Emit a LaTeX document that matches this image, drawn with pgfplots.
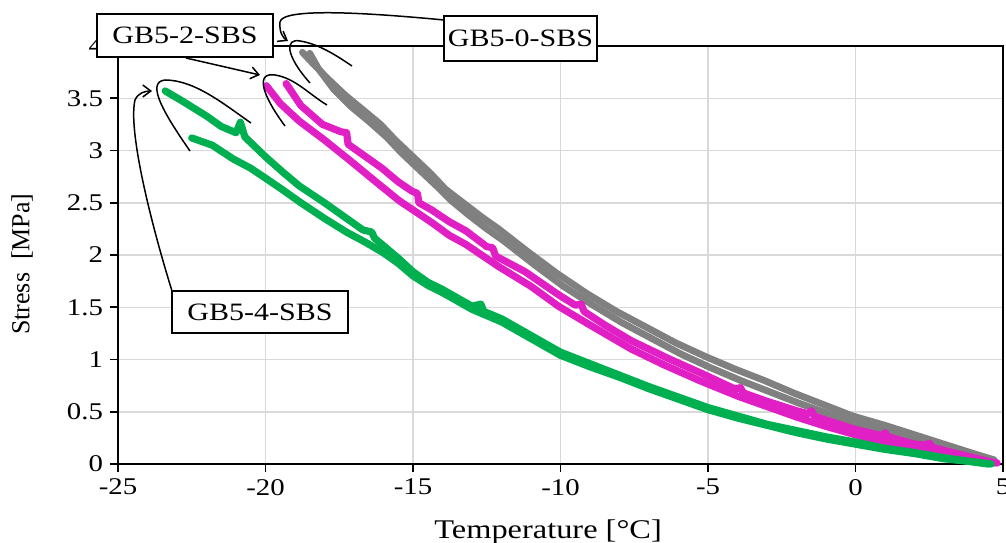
\documentclass[border=0pt]{standalone}
\usepackage{pgfplots}
\pgfplotsset{compat=1.18}
\usetikzlibrary{arrows.meta}
\usepackage{fontspec}
\setmainfont{Liberation Serif}[FakeStretch=1.2]
\newfontfamily\ylabfont{Liberation Serif}
\definecolor{cgreen}{RGB}{0,176,80}
\definecolor{cmag}{RGB}{224,32,196}
\definecolor{cgray}{RGB}{128,128,128}
\definecolor{cgrid}{RGB}{217,217,217}
\begin{document}
\begin{tikzpicture}
\begin{axis}[
  at={(0,0)}, anchor=south west,
  scale only axis, width=442.5pt, height=209pt,
  xmin=-25, xmax=5, ymin=0, ymax=4,
  xtick={-25,-20,-15,-10,-5,0,5}, xticklabels={-25,-20,-15,-10,-5,0,5},
  ytick={0,0.5,1,1.5,2,2.5,3,3.5,4}, yticklabels={0,0.5,1,1.5,2,2.5,3,3.5,4},
  xtick pos=left, ytick pos=left,
  tick align=outside, major tick length=4pt,
  grid=major, major grid style={cgrid, line width=0.75pt},
  axis line style={black, line width=1pt},
  tick style={black, line width=0.8pt},
  ticklabel style={font=\fontsize{12}{14}\selectfont},
  /pgf/number format/assume math mode=true,
  xlabel={Temperature [\textdegree C]},
  xlabel style={font=\fontsize{13.5}{15}\selectfont, at={(axis description cs:0.486,-0.162)}, anchor=center},
  ylabel={\ylabfont Stress\ \ [MPa]},
  ylabel style={font=\fontsize{13}{15}\selectfont, at={(axis description cs:-0.1085,0.478)}, anchor=center},
  clip=false,
]
% GB5-0-SBS (gray)
\addplot[cgray, line width=3.4pt, line join=round, line cap=round] coordinates {
(-18.75,3.94) (-18.45,3.85) (-17.9,3.69) (-17.3,3.53) (-16.7,3.39) (-16.1,3.25) (-15.6,3.10) (-15.0,2.94) (-14.4,2.78) (-13.9,2.63) (-13.3,2.50) (-12.7,2.37) (-12.1,2.25) (-11.1,2.03) (-10.1,1.82) (-9.1,1.63) (-8.1,1.46) (-7.1,1.31) (-6.1,1.16) (-5.1,1.03) (-4.1,0.91) (-3.1,0.80) (-2.1,0.68) (-1.1,0.57) (-0.1,0.46) (1,0.37) (2,0.28) (3,0.19) (4,0.10) (4.7,0.04)};
\addplot[cgray, line width=3.4pt, line join=round, line cap=round] coordinates {
(-18.5,3.93) (-18.2,3.78) (-17.7,3.59) (-17.1,3.42) (-16.5,3.28) (-15.9,3.13) (-15.4,2.98) (-14.8,2.82) (-14.2,2.66) (-13.7,2.52) (-13.1,2.38) (-12.5,2.25) (-11.9,2.13) (-10.9,1.91) (-9.9,1.70) (-8.9,1.52) (-7.9,1.35) (-6.9,1.20) (-5.9,1.05) (-4.9,0.92) (-3.9,0.80) (-2.9,0.69) (-1.9,0.58) (-0.9,0.48) (0.1,0.38) (1.1,0.30) (2.1,0.21) (3.1,0.13) (4.1,0.06) (4.8,0.01)};
% GB5-2-SBS (magenta)
\addplot[cmag, line width=3.6pt, line join=round, line cap=round] coordinates {
(-19.3,3.64) (-18.8,3.43) (-18.07,3.25) (-17.45,3.18) (-17.25,3.17) (-17.2,3.06) (-16.6,2.94) (-16.05,2.83) (-15.5,2.70) (-15.03,2.61) (-14.85,2.59) (-14.8,2.50) (-14.36,2.43) (-13.78,2.32) (-13.2,2.23) (-12.5,2.08) (-12.3,2.07) (-12.2,1.99) (-11.2,1.84) (-10.07,1.62) (-9.5,1.52) (-9.3,1.53) (-9.2,1.46) (-8.5,1.33) (-7.6,1.18) (-6.35,1.01) (-5.24,0.87) (-4.1,0.72) (-3.9,0.73) (-3.8,0.68) (-3,0.60) (-2,0.51) (-1.6,0.48) (-1.5,0.51) (-1.4,0.46) (-1,0.42) (0,0.33) (0.9,0.27) (1.0,0.30) (1.1,0.26) (2,0.19) (2.4,0.18) (2.5,0.20) (2.6,0.16) (3,0.13) (4,0.06) (4.7,0.01)};
\addplot[cmag, line width=3.6pt, line join=round, line cap=round] coordinates {
(-19.97,3.62) (-19.5,3.45) (-18.85,3.28) (-18,3.10) (-17.16,2.91) (-16.3,2.71) (-15.47,2.52) (-14.36,2.31) (-13.78,2.19) (-13.2,2.10) (-12.1,1.89) (-11,1.70) (-10.07,1.51) (-9,1.33) (-7.6,1.10) (-6.5,0.95) (-5.3,0.80) (-4,0.65) (-3,0.55) (-2,0.45) (-1,0.36) (0,0.28) (1,0.21) (2,0.15) (3,0.09) (4,0.04) (4.8,0.01)};
% GB5-4-SBS (green)
\addplot[cgreen, line width=3.6pt, line join=round, line cap=round] coordinates {
(-23.4,3.57) (-22.8,3.47) (-22.0,3.33) (-21.5,3.23) (-21.0,3.17) (-20.85,3.27) (-20.7,3.13) (-20.0,2.94) (-19.4,2.79) (-18.85,2.66) (-18.0,2.50) (-17.4,2.38) (-16.7,2.24) (-16.4,2.22) (-16.3,2.16) (-15.5,1.97) (-15,1.84) (-14.5,1.74) (-14,1.67) (-13.5,1.59) (-13,1.51) (-12.7,1.53) (-12.6,1.46) (-12,1.39) (-11,1.23) (-10,1.07) (-9,0.96) (-8,0.85) (-7,0.74) (-6,0.64) (-5,0.54) (-4,0.46) (-3,0.38) (-2,0.32) (-1,0.26) (0,0.21) (1,0.15) (2,0.11) (3,0.06) (4,0.02) (4.6,0.0)};
\addplot[cgreen, line width=3.6pt, line join=round, line cap=round] coordinates {
(-22.5,3.12) (-21.8,3.05) (-21.1,2.92) (-20.5,2.83) (-19.97,2.73) (-19.4,2.62) (-18.85,2.51) (-18,2.35) (-17.26,2.22) (-16.6,2.12) (-16,2.02) (-15.5,1.92) (-15,1.80) (-14.5,1.71) (-14,1.64) (-13.5,1.56) (-13,1.48) (-12.5,1.42) (-12,1.36) (-11,1.20) (-10,1.04) (-9,0.93) (-8,0.83) (-7,0.72) (-6,0.62) (-5,0.52) (-4,0.44) (-3,0.37) (-2,0.30) (-1,0.24) (0,0.19) (1,0.14) (2,0.10) (3,0.05) (4,0.02) (4.5,0.0)};
\end{axis}
\begin{scope}[x=0.5pt,y=-0.5pt,shift={(-59pt,232pt)}]
  \tikzset{lead/.style={black, line width=0.75pt}, tip/.style={-{Straight Barb[length=4pt,width=6pt]}}}
  % GB5-2 leader
  \draw[lead, tip] (186,58) -- (260,75);
  \draw[lead] (285,126) .. controls (262,95) and (255,72) .. (275,75) .. controls (295,78) and (310,95) .. (327,105);
  % GB5-0 leader
  \draw[lead, tip] (444,20) .. controls (360,12) and (282,8) .. (280,22) .. controls (279,32) and (283,38) .. (288,41);
  \draw[lead] (310,83) .. controls (285,55) and (285,38) .. (300,41) .. controls (320,44) and (340,58) .. (352,66);
  % GB5-4 leader
  \draw[lead, tip] (172,291) .. controls (150,220) and (128,130) .. (135,100) .. controls (138,93) and (145,91) .. (152,91);
  \draw[lead] (190,151) .. controls (165,115) and (145,82) .. (165,80) .. controls (195,80) and (225,105) .. (251,123);
  % boxes
  \tikzset{box/.style={draw=black, line width=0.8pt, fill=white, inner sep=0pt, font=\fontsize{12.5}{14}\selectfont}}
  \node[box, minimum width=88pt, minimum height=21.5pt] at (185,35.5) {GB5-2-SBS};
  \node[box, minimum width=76.5pt, minimum height=22.5pt] at (520.5,38.5) {GB5-0-SBS};
  \node[box, minimum width=88pt, minimum height=21pt] at (260,312) {GB5-4-SBS};
  \pgfresetboundingbox
  \path (0,0) rectangle (1006,542);
\end{scope}
\end{tikzpicture}
\end{document}
